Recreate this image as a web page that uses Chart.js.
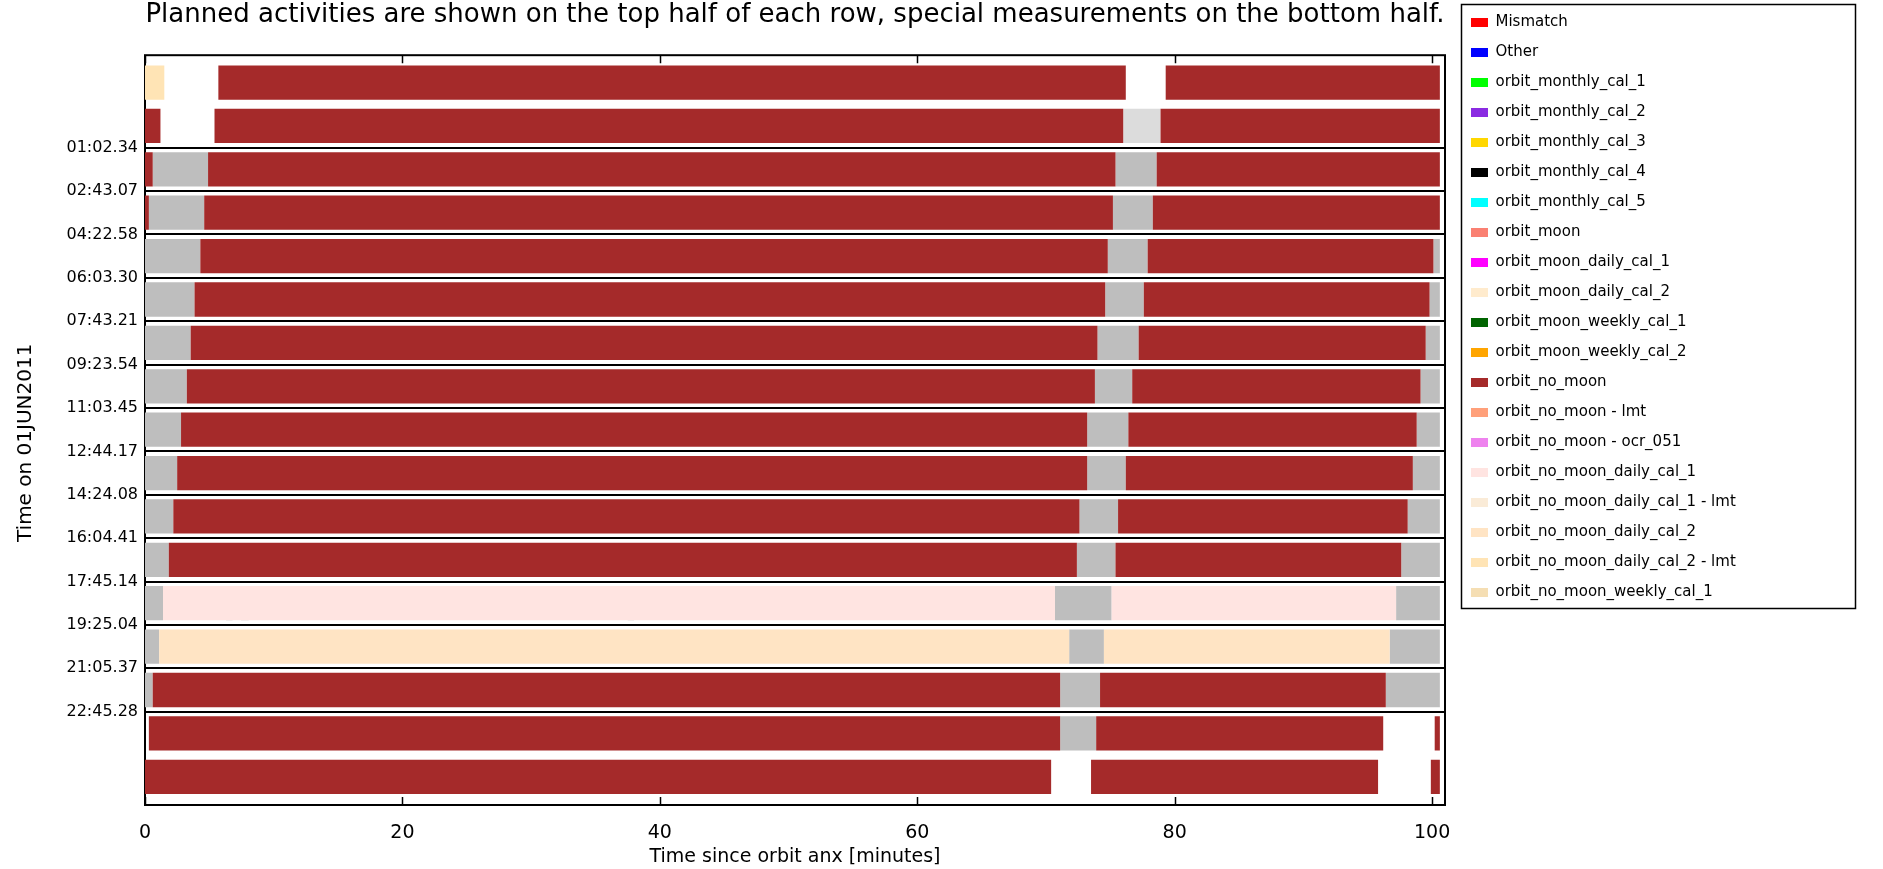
<!DOCTYPE html>
<html>
<head>
<meta charset="utf-8">
<script src="https://cdn.jsdelivr.net/npm/chart.js@4.4.0/dist/chart.umd.min.js"></script>
<style>
html,body{margin:0;padding:0;background:#ffffff;}
#wrap{width:1883px;height:869px;position:relative;}
</style>
</head>
<body>
<div id="wrap"><canvas id="c" width="1883" height="869"></canvas></div>
<script>
// ---------------- data ----------------
const titleText = 'Planned activities are shown on the top half of each row, special measurements on the bottom half.';
const xTitleText = 'Time since orbit anx [minutes]';
const yTitleText = 'Time on 01JUN2011';

const rowCount = 17;
const yMin = -0.13;
const yMax = 17.15;
const xMin = 0;
const xMax = 101;
const xTickValues = [0, 20, 40, 60, 80, 100];

const yTickLabels = ['01:02.34', '02:43.07', '04:22.58', '06:03.30', '07:43.21', '09:23.54', '11:03.45',
                     '12:44.17', '14:24.08', '16:04.41', '17:45.14', '19:25.04', '21:05.37', '22:45.28'];
const firstLabeledBoundary = 2;

const activityNames = ['Mismatch', 'Other', 'orbit_monthly_cal_1', 'orbit_monthly_cal_2', 'orbit_monthly_cal_3',
  'orbit_monthly_cal_4', 'orbit_monthly_cal_5', 'orbit_moon', 'orbit_moon_daily_cal_1', 'orbit_moon_daily_cal_2',
  'orbit_moon_weekly_cal_1', 'orbit_moon_weekly_cal_2', 'orbit_no_moon', 'orbit_no_moon - lmt',
  'orbit_no_moon - ocr_051', 'orbit_no_moon_daily_cal_1', 'orbit_no_moon_daily_cal_1 - lmt',
  'orbit_no_moon_daily_cal_2', 'orbit_no_moon_daily_cal_2 - lmt', 'orbit_no_moon_weekly_cal_1'];
const activityColors = ['#ff0000', '#0000ff', '#00ff00', '#8a2be2', '#ffd700',
  '#000000', '#00ffff', '#fa8072', '#ff00ff', '#ffebcd',
  '#006400', '#ffa500', '#a52a2a', '#ffa07a',
  '#ee82ee', '#ffe4e1', '#faebd7',
  '#ffe4c4', '#ffe4b5', '#f5deb3'];

// segments: [row, start minute, end minute]
const noMoonSegs = [
  [0, 5.7, 76.2], [0, 79.3, 100.6],
  [1, 0, 1.2], [1, 5.4, 76.0], [1, 78.9, 100.6],
  [2, 0, 0.6], [2, 4.9, 75.4], [2, 78.6, 100.6],
  [3, 0, 0.3], [3, 4.6, 75.2], [3, 78.3, 100.6],
  [4, 4.3, 74.8], [4, 77.9, 100.1],
  [5, 3.85, 74.6], [5, 77.6, 99.8],
  [6, 3.55, 74.0], [6, 77.2, 99.5],
  [7, 3.25, 73.8], [7, 76.7, 99.1],
  [8, 2.8, 73.2], [8, 76.4, 98.8],
  [9, 2.5, 73.2], [9, 76.2, 98.5],
  [10, 2.2, 72.6], [10, 75.6, 98.1],
  [11, 1.85, 72.4], [11, 75.4, 97.6],
  [14, 0.6, 71.1], [14, 74.2, 96.4],
  [15, 0.3, 71.1], [15, 73.9, 96.2], [15, 100.2, 100.6],
  [16, 0, 70.4], [16, 73.5, 95.8], [16, 99.9, 100.6]
];
const noMoonDailyCal1Segs = [[12, 1.4, 70.7], [12, 75.1, 97.2]];
const noMoonDailyCal2Segs = [[13, 1.1, 71.8], [13, 74.5, 96.7]];
const noMoonDailyCal2LmtSegs = [[0, 0, 1.5]];
const idleSegs = [
  [2, 0.6, 4.9], [2, 75.4, 78.6],
  [3, 0.3, 4.6], [3, 75.2, 78.3],
  [4, 0, 4.3], [4, 74.8, 77.9], [4, 100.1, 100.6],
  [5, 0, 3.85], [5, 74.6, 77.6], [5, 99.8, 100.6],
  [6, 0, 3.55], [6, 74.0, 77.2], [6, 99.5, 100.6],
  [7, 0, 3.25], [7, 73.8, 76.7], [7, 99.1, 100.6],
  [8, 0, 2.8], [8, 73.2, 76.4], [8, 98.8, 100.6],
  [9, 0, 2.5], [9, 73.2, 76.2], [9, 98.5, 100.6],
  [10, 0, 2.2], [10, 72.6, 75.6], [10, 98.1, 100.6],
  [11, 0, 1.85], [11, 72.4, 75.4], [11, 97.6, 100.6],
  [12, 0, 1.4], [12, 6.3, 6.8], [12, 7.45, 8.05], [12, 37.5, 38.0], [12, 70.7, 75.1], [12, 97.2, 100.6],
  [13, 0, 1.1], [13, 71.8, 74.5], [13, 96.7, 100.6],
  [14, 0, 0.6], [14, 71.1, 74.2], [14, 96.4, 100.6],
  [15, 71.1, 73.9]
];
const idleLightSegs = [[1, 76.0, 78.9]];

const segsByActivity = {
  'orbit_no_moon': noMoonSegs,
  'orbit_no_moon_daily_cal_1': noMoonDailyCal1Segs,
  'orbit_no_moon_daily_cal_2': noMoonDailyCal2Segs,
  'orbit_no_moon_daily_cal_2 - lmt': noMoonDailyCal2LmtSegs
};

// ---------------- build ----------------
const toPoints = segs => segs.map(([row, s, e]) => ({ y: row + 0.5, x: [s, e] }));

const datasets = activityNames.map((name, i) => ({
  label: name,
  data: toPoints(segsByActivity[name] || []),
  backgroundColor: activityColors[i],
  borderWidth: 0
}));
datasets.push({ label: 'idle', data: toPoints(idleSegs), backgroundColor: '#bebebe', borderWidth: 0 });
datasets.push({ label: 'idle light', data: toPoints(idleLightSegs), backgroundColor: '#dcdcdc', borderWidth: 0 });

const framePlugin = {
  id: 'framePlugin',
  beforeDatasetsDraw(chart) {
    const { ctx, chartArea: a } = chart;
    const xs = chart.scales.x;
    ctx.save();
    ctx.strokeStyle = '#000';
    ctx.lineWidth = 2;
    ctx.strokeRect(a.left, a.top, a.right - a.left, a.bottom - a.top);
    ctx.lineWidth = 1.5;
    ctx.beginPath();
    xs.ticks.forEach(t => {
      const px = Math.round(xs.getPixelForValue(t.value)) + 0.5;
      ctx.moveTo(px, a.top); ctx.lineTo(px, a.top + 8);
      ctx.moveTo(px, a.bottom); ctx.lineTo(px, a.bottom - 8);
    });
    ctx.stroke();
    ctx.restore();
  },
  afterDraw(chart) {
    const lg = chart.legend;
    if (!lg || !lg.legendHitBoxes || !lg.legendHitBoxes.length) return;
    const hb = lg.legendHitBoxes;
    const ctx = chart.ctx;
    const left = hb[0].left - 10;
    const top = lg.top + 4;
    const right = chart.width - 28;
    const last = hb[hb.length - 1];
    const bottom = last.top + last.height + 8;
    ctx.save();
    ctx.strokeStyle = '#000';
    ctx.lineWidth = 1.5;
    ctx.strokeRect(left + 0.5, top + 0.5, right - left, bottom - top);
    ctx.restore();
  }
};

const chart = new Chart(document.getElementById('c'), {
  type: 'bar',
  data: { datasets },
  options: {
    indexAxis: 'y',
    responsive: false,
    animation: false,
    devicePixelRatio: 1,
    layout: { padding: { left: 0, right: 120, top: 0, bottom: 0 } },
    datasets: { bar: { grouped: false, categoryPercentage: 1, barPercentage: 0.79, borderWidth: 0, borderSkipped: false } },
    scales: {
      x: {
        type: 'linear', min: xMin, max: xMax, offset: false,
        afterBuildTicks: s => { s.ticks = xTickValues.map(v => ({ value: v })); },
        ticks: { font: { family: 'DejaVu Sans', size: 19 }, color: '#000', padding: 9, maxRotation: 0, autoSkip: false },
        grid: { display: false },
        border: { display: false },
        title: { display: true, text: xTitleText, color: '#000', font: { family: 'DejaVu Sans', size: 19 }, padding: { top: 0, bottom: 1 } },
        afterFit: s => { s.height = 64; }
      },
      y: {
        type: 'linear', reverse: true, min: yMin, max: yMax, offset: false,
        afterBuildTicks: s => { s.ticks = yTickLabels.map((l, i) => ({ value: firstLabeledBoundary + i })); },
        ticks: {
          font: { family: 'DejaVu Sans', size: 16 }, color: '#000', padding: 7, autoSkip: false,
          callback: v => yTickLabels[v - firstLabeledBoundary]
        },
        grid: { color: '#000', lineWidth: 2, drawTicks: false, offset: false },
        border: { display: false },
        title: { display: true, text: yTitleText + '    ', color: '#000', font: { family: 'DejaVu Sans', size: 20 }, padding: { top: 14, bottom: 0 } },
        afterFit: s => { s.width = 145; }
      },
      yr: {
        type: 'linear', position: 'right', min: 0, max: 1,
        ticks: { display: false }, grid: { display: false }, border: { display: false },
        afterFit: s => { s.width = 11; }
      }
    },
    plugins: {
      title: {
        display: true, text: titleText, fullSize: false, color: '#000',
        font: { family: 'DejaVu Sans', size: 26, weight: 'normal' },
        padding: { top: 0, bottom: 24 }
      },
      legend: {
        position: 'right', align: 'start',
        labels: {
          boxWidth: 17, boxHeight: 9, padding: 15, color: '#000',
          font: { family: 'DejaVu Sans', size: 15 },
          filter: item => item.datasetIndex < activityNames.length
        }
      },
      tooltip: { enabled: false }
    }
  },
  plugins: [framePlugin]
});

// keep the plot's right edge at the reference position
const wantRight = 1445;
const delta = wantRight - chart.chartArea.right;
if (Math.abs(delta) > 0.5) {
  chart.options.layout.padding.right = Math.max(0, chart.options.layout.padding.right - delta);
  chart.update();
}
</script>
</body>
</html>
